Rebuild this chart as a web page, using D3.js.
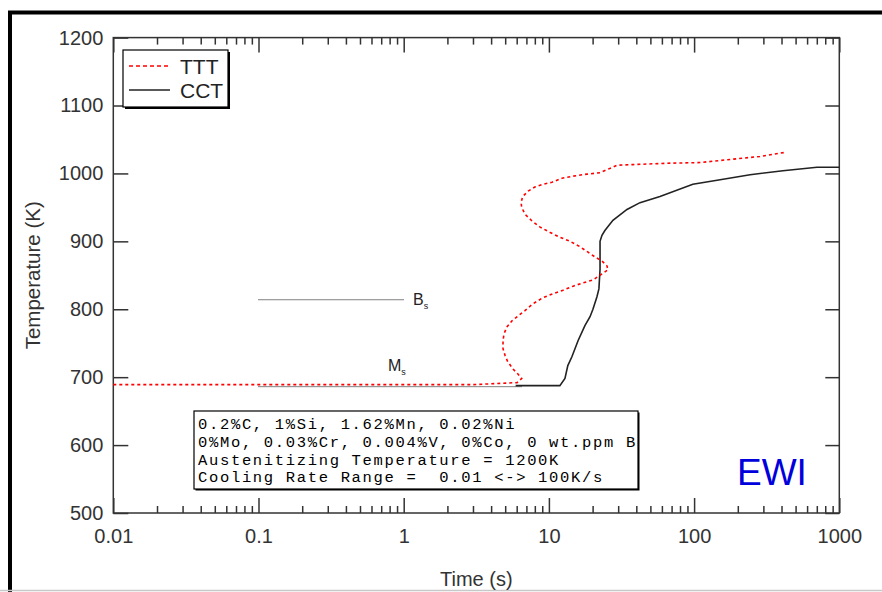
<!DOCTYPE html>
<html>
<head>
<meta charset="utf-8">
<script src="https://cdn.jsdelivr.net/npm/d3@7"></script>
<style>
  body { margin: 0; background: #fff; }
  svg { display: block; font-family: "Liberation Sans", Arial, sans-serif; }
</style>
</head>
<body>
<svg id="chart" width="882" height="592"></svg>
<script>
// axis ticks
const xMajor = [0.01, 0.1, 1, 10, 100, 1000];
const yMajor = [500, 600, 700, 800, 900, 1000, 1100, 1200];

// TTT curve (time s, temperature K)
const tttTime = [0.01, 3.0, 6.03, 6.5, 6.1, 5.66, 5.2, 4.99, 4.83, 4.83, 4.91, 5.14, 5.57, 6.12, 6.84, 7.76, 9.1, 10.7, 12.5, 14.7, 17.2, 20.1, 23.2, 25.5, 25.1, 23.2, 20.8, 18.6, 16.4, 14.0, 11.9, 10.2, 8.7, 7.65, 6.84, 6.5, 6.43, 6.6, 7.2, 8.0, 9.1, 10.5, 12.3, 14.7, 18.3, 22.5, 29.4, 37.9, 65, 110, 185, 284, 423];
const tttTemp = [689, 689, 692, 698, 705, 712, 723, 732, 742, 754, 764, 774, 783, 790, 798, 808, 817, 823, 828, 834, 839, 843, 852, 858, 864, 871, 877, 884, 892, 900, 906, 913, 921, 930, 940, 950, 957, 966, 974, 980, 984, 987, 993, 996, 999, 1001, 1012, 1013, 1015, 1016, 1021, 1025, 1031];

// CCT curve
const cctTime = [5.9, 11.9, 12.9, 13.5, 14.4, 15.9, 17.7, 19.2, 20.1, 21.4, 22.1, 22.5, 22.5, 23.2, 24.3, 27.6, 34.5, 42.4, 58.2, 98, 144, 243, 409, 702, 1000];
const cctTemp = [687.5, 687.5, 698, 717, 730, 754, 776, 789, 800, 818, 830, 859, 900, 909, 916, 931, 947, 957, 966, 984, 990, 998, 1004, 1009, 1009];

// Bs / Ms start lines
const bsTime = [0.1, 1.0], bsTemp = [814, 814];
const msTime = [0.1, 6.5], msTemp = [686, 686];

const infoLines = [
  "0.2%C, 1%Si, 1.62%Mn, 0.02%Ni",
  "0%Mo, 0.03%Cr, 0.004%V, 0%Co, 0 wt.ppm B",
  "Austenitizing Temperature = 1200K",
  "Cooling Rate Range =  0.01 <-> 100K/s"
];
const legendItems = [
  { name: "TTT", color: "#ff0000", dash: "4,3" },
  { name: "CCT", color: "#222", dash: null }
];

const svg = d3.select("#chart");
const pLeft = 113.3, pRight = 839.3, pTop = 37.6, pBottom = 513;

const x = d3.scaleLog().domain([0.01, 1000]).range([pLeft, pRight]);
const y = d3.scaleLinear().domain([500, 1200]).range([pBottom, pTop]);

// outer frame
svg.append("path")
    .attr("d", `M10,592 L10,12.5 L882,12.5`)
    .attr("fill", "none").attr("stroke", "#000").attr("stroke-width", 4);
svg.append("line")
    .attr("x1", 0).attr("x2", 882).attr("y1", 590.5).attr("y2", 590.5)
    .attr("stroke", "#c8c8c8").attr("stroke-width", 1.5);

// plot box
svg.append("rect")
    .attr("x", pLeft).attr("y", pTop)
    .attr("width", pRight - pLeft).attr("height", pBottom - pTop)
    .attr("fill", "none").attr("stroke", "#333").attr("stroke-width", 1.5);

const minor = x.ticks().filter(d => !xMajor.includes(d));

function styleAxis(g) {
    g.select(".domain").remove();
    g.selectAll("line").attr("stroke", "#333").attr("stroke-width", 1.5);
    g.selectAll("text").style("font-size", "20px").attr("fill", "#333")
        .style("font-family", "'Liberation Sans', Arial, sans-serif");
}

svg.append("g").attr("transform", `translate(0,${pBottom})`)
    .call(d3.axisBottom(x).tickValues(xMajor).tickSize(-15).tickPadding(16)
        .tickFormat(d3.format("~g")))
    .call(styleAxis);
svg.append("g").attr("transform", `translate(0,${pBottom})`)
    .call(d3.axisBottom(x).tickValues(minor).tickSize(-7).tickFormat(""))
    .call(styleAxis);
svg.append("g").attr("transform", `translate(0,${pTop})`)
    .call(d3.axisTop(x).tickValues(xMajor).tickSize(-15).tickFormat(""))
    .call(styleAxis);
svg.append("g").attr("transform", `translate(0,${pTop})`)
    .call(d3.axisTop(x).tickValues(minor).tickSize(-7).tickFormat(""))
    .call(styleAxis);
svg.append("g").attr("transform", `translate(${pLeft},0)`)
    .call(d3.axisLeft(y).tickValues(yMajor).tickSize(-15).tickPadding(10)
        .tickFormat(d3.format("d")))
    .call(styleAxis);
svg.append("g").attr("transform", `translate(${pRight},0)`)
    .call(d3.axisRight(y).tickValues(yMajor).tickSize(-14).tickFormat(""))
    .call(styleAxis);

// axis titles
svg.append("text")
    .attr("x", (pLeft + pRight) / 2).attr("y", 586)
    .attr("text-anchor", "middle").style("font-size", "20px").attr("fill", "#333")
    .text("Time (s)");
svg.append("text")
    .attr("transform", `translate(40,${(pTop + pBottom) / 2}) rotate(-90)`)
    .attr("text-anchor", "middle").style("font-size", "20.5px").attr("fill", "#333")
    .text("Temperature (K)");

const line = d3.line().x(d => x(d[0])).y(d => y(d[1]));

// Bs and Ms lines
svg.append("path")
    .attr("d", line(d3.zip(bsTime, bsTemp)))
    .attr("fill", "none").attr("stroke", "#000").attr("stroke-width", 1)
    .attr("stroke-dasharray", "1,1");
svg.append("path")
    .attr("d", line(d3.zip(msTime, msTemp)))
    .attr("fill", "none").attr("stroke", "#000").attr("stroke-width", 1)
    .attr("stroke-dasharray", "1,1");

// CCT
svg.append("path")
    .attr("d", line(d3.zip(cctTime, cctTemp)))
    .attr("fill", "none").attr("stroke", "#222").attr("stroke-width", 1.6);

// TTT
svg.append("path")
    .attr("d", line(d3.zip(tttTime, tttTemp)))
    .attr("fill", "none").attr("stroke", "#ff0000").attr("stroke-width", 1.6)
    .attr("stroke-dasharray", "3,3");

// Bs / Ms labels
function startLabel(letter, px, py) {
    const t = svg.append("text").attr("x", px).attr("y", py)
        .style("font-size", "16px").attr("fill", "#222");
    t.append("tspan").text(letter);
    t.append("tspan").attr("dy", 4).style("font-size", "9px").text("s");
}
startLabel("B", 413, 305);
startLabel("M", 388, 371);

// legend
const lg = svg.append("g");
lg.append("rect").attr("x", 125).attr("y", 52).attr("width", 105).attr("height", 57)
    .attr("fill", "#000");
lg.append("rect").attr("x", 123).attr("y", 50).attr("width", 105).attr("height", 57)
    .attr("fill", "#fff").attr("stroke", "#000").attr("stroke-width", 1.2);
legendItems.forEach((d, i) => {
    const ly = 66 + i * 24;
    lg.append("line").attr("x1", 129).attr("x2", 170).attr("y1", ly).attr("y2", ly)
        .attr("stroke", d.color).attr("stroke-width", 1.5)
        .attr("stroke-dasharray", d.dash);
    lg.append("text").attr("x", 180).attr("y", ly + 8)
        .style("font-size", "21px").attr("fill", "#222").text(d.name);
});

// composition box
const ib = svg.append("g");
ib.append("rect").attr("x", 195.5).attr("y", 412.5).attr("width", 444).attr("height", 78)
    .attr("fill", "#000");
ib.append("rect").attr("x", 194).attr("y", 411).attr("width", 444).attr("height", 78)
    .attr("fill", "#fff").attr("stroke", "#000").attr("stroke-width", 1.2);
ib.selectAll("text").data(infoLines).enter().append("text")
    .attr("x", 198).attr("y", (d, i) => 429 + i * 17.8)
    .style("font-family", "'Liberation Mono', 'Courier New', monospace")
    .style("font-size", "15.5px").style("letter-spacing", "1.67px").attr("fill", "#000")
    .attr("xml:space", "preserve").style("white-space", "pre")
    .text(d => d);

// EWI mark
svg.append("text").attr("x", 737).attr("y", 485)
    .style("font-size", "37px").attr("fill", "#0000dd").text("EWI");
</script>
</body>
</html>
